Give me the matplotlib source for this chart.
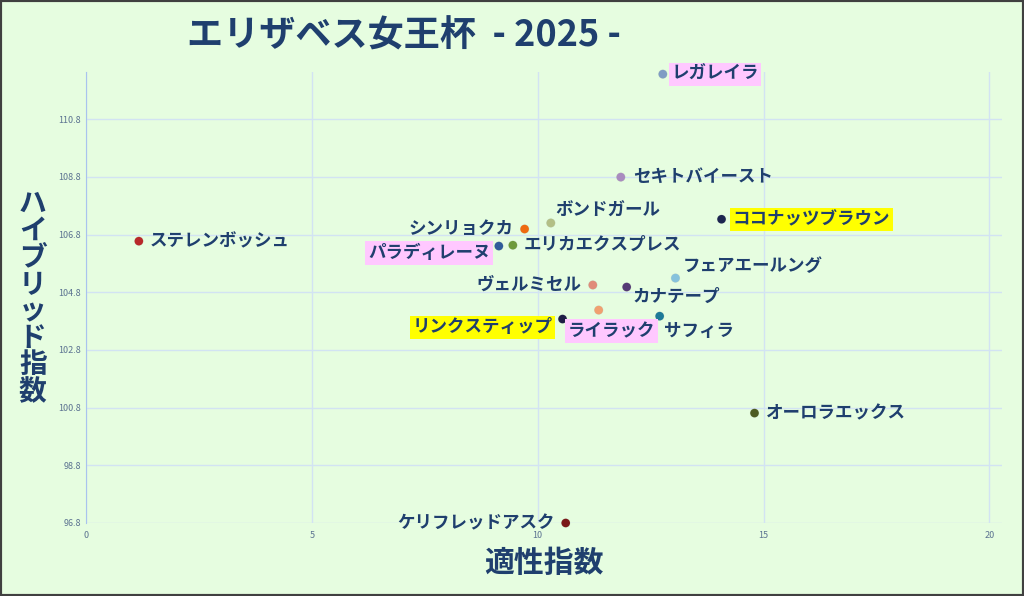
import matplotlib
matplotlib.use("Agg")
import matplotlib.pyplot as plt
from matplotlib.patches import Rectangle

plt.rcParams['font.family'] = ['Noto Sans CJK JP', 'DejaVu Sans']

horses = ["レガレイラ", "セキトバイースト", "ココナッツブラウン", "ボンドガール", "シンリョクカ",
          "ステレンボッシュ", "パラディレーヌ", "エリカエクスプレス", "フェアエールング", "ヴェルミセル",
          "カナテープ", "ライラック", "リンクスティップ", "サフィラ", "オーロラエックス", "ケリフレッドアスク"]
aptitude = [12.77, 11.84, 14.07, 10.29, 9.71, 1.17, 9.14, 9.45, 13.05, 11.22,
            11.97, 11.35, 10.55, 12.70, 14.80, 10.62]
hybrid = [112.36, 108.79, 107.33, 107.20, 106.99, 106.57, 106.40, 106.43, 105.29, 105.05,
          104.98, 104.18, 103.87, 103.97, 100.61, 96.80]
colors = ["#7f9cc4", "#a98bbf", "#1c2550", "#b3bf86", "#ef6a10", "#b8282a", "#2f5c9a", "#6e9a3c",
          "#86c2dc", "#e08c7a", "#553a75", "#f0a070", "#1e1e45", "#1d7a98", "#4d5c22", "#7a1818"]
yticks = [96.8, 98.8, 100.8, 102.8, 104.8, 106.8, 108.8, 110.8]
xticks = [0, 5, 10, 15, 20]
pink = {"レガレイラ", "パラディレーヌ", "ライラック"}
yellow = {"ココナッツブラウン", "リンクスティップ"}

# label offsets in points and alignment
offsets = {
    "レガレイラ": (6, 0, "left"), "セキトバイースト": (9, 0, "left"),
    "ココナッツブラウン": (8, 0, "left"), "ボンドガール": (3, 9, "left"),
    "シンリョクカ": (-8, 0, "right"), "ステレンボッシュ": (8, 0, "left"),
    "パラディレーヌ": (-6, -5, "right"), "エリカエクスプレス": (8, 0, "left"),
    "フェアエールング": (5, 9, "left"), "ヴェルミセル": (-8, 0, "right"),
    "カナテープ": (4, -7, "left"), "ライラック": (9, -15, "center"),
    "リンクスティップ": (-7, -6, "right"), "サフィラ": (3, -11, "left"),
    "オーロラエックス": (8, 0, "left"), "ケリフレッドアスク": (-8, 0, "right"),
}

bg = "#e6fde0"
text_c = "#1f3f6e"
fig = plt.figure(figsize=(10.24, 5.96), dpi=100, facecolor=bg)
ax = fig.add_axes([0.084, 0.1225, 0.895, 0.7565], facecolor=bg)

# soft shadow under each point
ax.scatter(aptitude, hybrid, s=44, c="#9aa89a", alpha=0.35, zorder=2, edgecolors="none",
           clip_on=False)
ax.scatter(aptitude, hybrid, s=38, c=colors, zorder=3, edgecolors="none", clip_on=False)
for name, x, y in zip(horses, aptitude, hybrid):
    dx, dy, ha = offsets[name]
    bbox = None
    if name in pink:
        bbox = dict(boxstyle="square,pad=0.15", fc="#ffc8ff", ec="none")
    elif name in yellow:
        bbox = dict(boxstyle="square,pad=0.15", fc="#ffff00", ec="none")
    ax.annotate(name, (x, y), xytext=(dx, dy), textcoords="offset points",
                ha=ha, va="center", fontsize=12.6, fontweight="bold", color=text_c,
                bbox=bbox, zorder=4, annotation_clip=False)

ax.set_xlim(0, 20.29)
ax.set_ylim(96.8, 112.43)
ax.set_xticks(xticks)
ax.set_yticks(yticks)
ax.set_yticklabels([f"{v:.1f}" for v in yticks])
ax.tick_params(labelsize=6.5, colors="#5c7391", length=0)
ax.tick_params(axis="x", pad=6)
ax.grid(True, color="#d2e3f3", linewidth=1)
ax.set_axisbelow(True)
for s in ["top", "right", "bottom"]:
    ax.spines[s].set_visible(False)
ax.spines["left"].set_color("#a9c3ee")

fig.text(0.394, 0.94, "エリザベス女王杯  - 2025 -", ha="center", va="center",
         fontsize=26, fontweight="bold", color=text_c)
fig.text(0.531, 0.055, "適性指数", ha="center", va="center",
         fontsize=21.5, fontweight="bold", color=text_c)
fig.text(0.032, 0.5, "\n".join("ハイブリッド指数"), ha="center", va="center",
         fontsize=20, fontweight="bold", color=text_c, linespacing=0.95)

fig.patches.append(Rectangle((0, 0), 1, 1, transform=fig.transFigure, fill=False,
                             ec="#404040", lw=3))
fig.savefig("out.png", dpi=100, facecolor=bg)
